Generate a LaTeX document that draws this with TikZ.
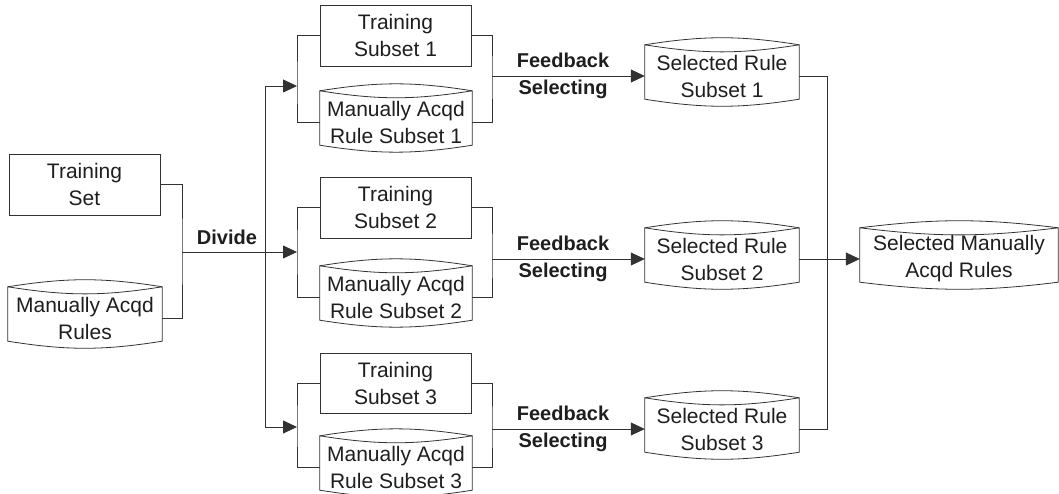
\documentclass[tikz,border=0pt]{standalone}
\usepackage{fontspec}
\setmainfont{Liberation Sans}
\usetikzlibrary{arrows.meta}
\definecolor{ln}{RGB}{50,50,50}
\definecolor{tx}{RGB}{30,30,30}
\tikzset{
  boxnode/.style={draw=ln, line width=0.8pt, rectangle, minimum width=151pt, minimum height=61pt, inner sep=0pt, align=center, font=\fontsize{21}{27}\selectfont, text=tx},
  dbnode/.style={rectangle, minimum height=54pt, inner sep=0pt, align=center, font=\fontsize{21}{27}\selectfont, text=tx},
  conn/.style={draw=ln, line width=0.8pt},
  arrowconn/.style={conn, -{Triangle[length=14pt,width=13pt]}},
  lab/.style={align=center, font=\fontsize{20}{27}\bfseries\selectfont, text=tx, inner sep=0pt},
}
\newcommand\cylshape[2]{%
  \draw[conn] ([yshift=4pt]#1.north west) to[bend left=#2] ([yshift=4pt]#1.north east)
    -- ([yshift=4pt]#1.south east) to[bend left=#2] ([yshift=4pt]#1.south west) -- cycle;
  \draw[conn] ([yshift=4pt]#1.north west) to[bend right=#2] ([yshift=4pt]#1.north east);}
\begin{document}
\begin{tikzpicture}[x=1pt,y=-1pt]
\useasboundingbox (0,0) rectangle (1059,494);
% left inputs
\node[boxnode] (ts) at (84.5,184.5) {Training\\Set};
\node[dbnode, minimum width=154pt] (mr) at (85,318) {Manually Acqd\\Rules};
\cylshape{mr}{9}
% groups
\node[boxnode] (t1) at (395.5,35.5) {Training\\Subset 1};
\node[dbnode, minimum width=152pt] (c1) at (396,122) {Manually Acqd\\Rule Subset 1};
\cylshape{c1}{9}
\node[boxnode] (t2) at (395.5,207.5) {Training\\Subset 2};
\node[dbnode, minimum width=152pt] (c2) at (396,297) {Manually Acqd\\Rule Subset 2};
\cylshape{c2}{9}
\node[boxnode, minimum height=60pt] (t3) at (395.5,383) {Training\\Subset 3};
\node[dbnode, minimum width=152pt] (c3) at (396,467) {Manually Acqd\\Rule Subset 3};
\cylshape{c3}{9}
% selected subsets
\node[dbnode, minimum width=154pt] (s1) at (722,76) {Selected Rule\\Subset 1};
\cylshape{s1}{9}
\node[dbnode, minimum width=154pt] (s2) at (722,259) {Selected Rule\\Subset 2};
\cylshape{s2}{9}
\node[dbnode, minimum width=154pt] (s3) at (722,429) {Selected Rule\\Subset 3};
\cylshape{s3}{9}
\node[dbnode, minimum width=198pt] (sm) at (959,259) {Selected Manually\\Acqd Rules};
\cylshape{sm}{7}
% labels
\node[lab] (ldiv) at (227,237) {Divide};
\node[lab] (lf1) at (563,76) {Feedback\\Selecting};
\node[lab] (lf2) at (563,259) {Feedback\\Selecting};
\node[lab] (lf3) at (563,428.5) {Feedback\\Selecting};
% coordinates
\coordinate (jA) at (182,252);
\coordinate (v1) at (265,86);
\coordinate (v3) at (265,427);
\coordinate (lb1) at (297,86);
\coordinate (lb2) at (297,252);
\coordinate (lb3) at (297,427);
\coordinate (rb1) at (492,76);
\coordinate (rb2) at (492,259);
\coordinate (rb3) at (492,429);
\coordinate (r1) at (827,76);
\coordinate (r3) at (827,429);
% left connectors
\draw[conn] (ts.east) -| (jA) |- (mr.east);
\draw[arrowconn] (jA) -- (lb2);
\draw[conn] (v1) -- (v3);
\draw[arrowconn] (v1) -- (lb1);
\draw[arrowconn] (v3) -- (lb3);
% brackets
\draw[conn] (t1.west) -| (lb1) |- (c1.west);
\draw[conn] (t2.west) -| (lb2) |- (c2.west);
\draw[conn] (t3.west) -| (lb3) |- (c3.west);
\draw[conn] (t1.east) -| (rb1) |- (c1.east);
\draw[conn] (t2.east) -| (rb2) |- (c2.east);
\draw[conn] (t3.east) -| (rb3) |- (c3.east);
\draw[arrowconn] (rb1) -- (s1.west);
\draw[arrowconn] (rb2) -- (s2.west);
\draw[arrowconn] (rb3) -- (s3.west);
% right merge
\draw[conn] (s1.east) -- (r1) -- (r3) -- (s3.east);
\draw[arrowconn] (s2.east) -- (sm.west);
\end{tikzpicture}
\end{document}
